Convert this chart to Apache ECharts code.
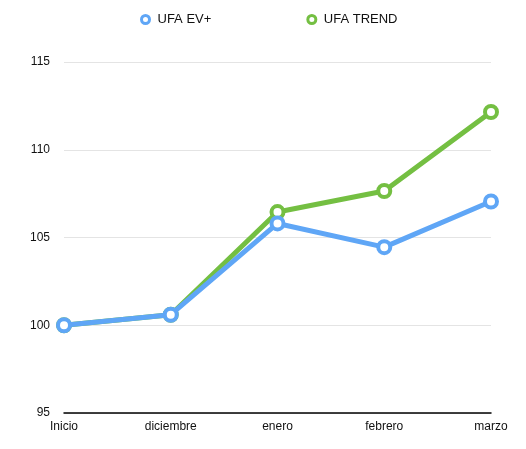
<!DOCTYPE html>
<html lang="es">
<head>
    <meta charset="UTF-8">
    <title>UFA</title>
    <script src="https://cdn.jsdelivr.net/npm/echarts@6/dist/echarts.min.js"></script>
    <style>
        html, body { margin: 0; padding: 0; background: #fff; }
        #main { width: 526px; height: 449px; }
    </style>
</head>
<body>
    <div id="main"></div>
    <script>
        // datos
        var months = ['Inicio', 'diciembre', 'enero', 'febrero', 'marzo'];
        var evPlus = [100, 100.6, 105.8, 104.45, 107.05];
        var trend = [100, 100.6, 106.45, 107.65, 112.15];
        var yTicks = [95, 100, 105, 110, 115];

        var blue = '#5fa6f6';
        var green = '#74bf42';

        var chart = echarts.init(document.getElementById('main'));

        function lineSeries(name, data, color, z) {
            return {
                name: name,
                type: 'line',
                data: data,
                z: z,
                symbol: 'circle',
                symbolSize: 12,
                showAllSymbol: true,
                lineStyle: { color: color, width: 5 },
                itemStyle: { color: '#fff', borderColor: color, borderWidth: 4 }
            };
        }

        chart.setOption({
            animation: false,
            textStyle: { fontFamily: 'Liberation Sans, Arial, sans-serif' },
            legend: {
                top: 8,
                left: 135,
                itemGap: 95,
                itemWidth: 14,
                itemHeight: 8,
                data: [
                    { name: 'UFA EV+', icon: 'circle', itemStyle: { color: '#fff', borderColor: blue, borderWidth: 3 } },
                    { name: 'UFA TREND', icon: 'circle', itemStyle: { color: '#fff', borderColor: green, borderWidth: 3 } }
                ],
                textStyle: { color: '#111', fontSize: 13 }
            },
            grid: { left: 64, right: 35, top: 62, bottom: 36, containLabel: false },
            xAxis: {
                type: 'category',
                data: months,
                boundaryGap: false,
                axisLine: { lineStyle: { color: '#000', width: 1.5 } },
                axisTick: { show: false },
                axisLabel: { color: '#111', fontSize: 12, margin: 8 }
            },
            yAxis: {
                type: 'value',
                min: yTicks[0],
                max: yTicks[yTicks.length - 1],
                interval: 5,
                axisLine: { show: false },
                axisTick: { show: false },
                axisLabel: { color: '#111', fontSize: 12, margin: 14 },
                splitLine: { lineStyle: { color: '#e4e4e4' } }
            },
            series: [
                lineSeries('UFA EV+', evPlus, blue, 3),
                lineSeries('UFA TREND', trend, green, 2)
            ]
        });
    </script>
</body>
</html>
